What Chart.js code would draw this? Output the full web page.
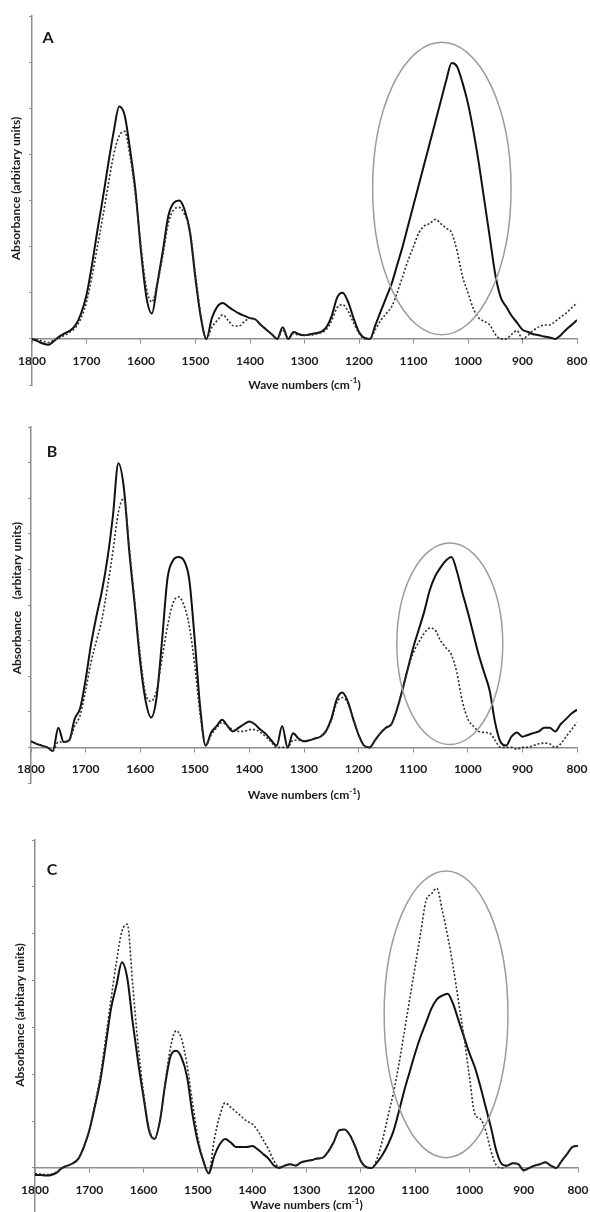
<!DOCTYPE html>
<html>
<head>
<meta charset="utf-8">
<title>FTIR spectra A, B, C</title>
<script src="https://cdn.jsdelivr.net/npm/chart.js@4.4.1/dist/chart.umd.min.js"></script>
<style>
  html, body { margin: 0; padding: 0; background: #fff; }
  .panel { position: absolute; left: 0; width: 590px; }
  #panelA { top: 0; height: 395px; }
  #panelB { top: 395px; height: 405px; }
  #panelC { top: 790px; height: 422px; }
</style>
</head>
<body>
<div class="panel" id="panelA"><canvas id="chartA" width="590" height="395"></canvas></div>
<div class="panel" id="panelB"><canvas id="chartB" width="590" height="405"></canvas></div>
<div class="panel" id="panelC"><canvas id="chartC" width="590" height="422"></canvas></div>
<script>
// wave numbers (cm-1), read every 10 from 1800 down to 800
const waveNumbers = [
  1800, 1790, 1780, 1770, 1760, 1750, 1740, 1730, 1720, 1710,
  1700, 1690, 1680, 1670, 1660, 1650, 1640, 1630, 1620, 1610,
  1600, 1590, 1580, 1570, 1560, 1550, 1540, 1530, 1520, 1510,
  1500, 1490, 1480, 1470, 1460, 1450, 1440, 1430, 1420, 1410,
  1400, 1390, 1380, 1370, 1360, 1350, 1340, 1330, 1320, 1310,
  1300, 1290, 1280, 1270, 1260, 1250, 1240, 1230, 1220, 1210,
  1200, 1190, 1180, 1170, 1160, 1150, 1140, 1130, 1120, 1110,
  1100, 1090, 1080, 1070, 1060, 1050, 1040, 1030, 1020, 1010,
  1000, 990, 980, 970, 960, 950, 940, 930, 920, 910,
  900, 890, 880, 870, 860, 850, 840, 830, 820, 810,
  800
];
const xTicks = [1800, 1700, 1600, 1500, 1400, 1300, 1200, 1100, 1000, 900, 800];

// panel A
const solidA = [
  0.0, -0.05, -0.1, -0.13, -0.05, 0.05, 0.12, 0.18, 0.3, 0.55,
  0.95, 1.6, 2.35, 3.05, 3.8, 4.5, 5.04, 4.85, 4.1, 3.2,
  1.9, 0.9, 0.55, 1.2, 1.9, 2.66, 2.95, 3.0, 2.8, 2.3,
  1.3, 0.45, 0.0, 0.45, 0.7, 0.78, 0.7, 0.62, 0.55, 0.5,
  0.45, 0.42, 0.3, 0.2, 0.1, 0.0, 0.25, 0.0, 0.15, 0.1,
  0.08, 0.1, 0.12, 0.15, 0.25, 0.5, 0.9, 1.0, 0.8, 0.45,
  0.15, 0.02, 0.0, 0.3, 0.6, 0.9, 1.2, 1.6, 2.0, 2.45,
  2.9, 3.35, 3.8, 4.25, 4.7, 5.15, 5.6, 5.98, 5.9, 5.55,
  5.1, 4.5, 3.8, 3.0, 2.2, 1.4, 0.9, 0.7, 0.5, 0.35,
  0.2, 0.15, 0.1, 0.08, 0.05, 0.03, 0.0, 0.08, 0.2, 0.3,
  0.41
];
const dottedA = [
  0.0, -0.02, -0.05, -0.08, -0.03, 0.02, 0.08, 0.15, 0.25, 0.45,
  0.8, 1.35, 2.0, 2.65, 3.35, 4.0, 4.4, 4.5, 3.95, 3.1,
  2.0, 1.1, 0.8, 1.2, 1.8, 2.5, 2.8, 2.85, 2.7, 2.35,
  1.4, 0.5, 0.0, 0.25, 0.4, 0.52, 0.4, 0.28, 0.28, 0.38,
  0.45, 0.42, 0.3, 0.2, 0.1, 0.0, 0.2, 0.0, 0.12, 0.08,
  0.08, 0.08, 0.1, 0.13, 0.2, 0.4, 0.68, 0.74, 0.6, 0.35,
  0.12, 0.0, 0.0, 0.2, 0.4, 0.55, 0.7, 1.0, 1.35, 1.7,
  2.0, 2.3, 2.45, 2.5, 2.59, 2.5, 2.4, 2.3, 1.9, 1.35,
  1.0, 0.65, 0.45, 0.38, 0.3, 0.1, 0.0, 0.0, 0.1, 0.18,
  0.0, 0.08, 0.18, 0.26, 0.3, 0.3, 0.38, 0.47, 0.56, 0.67,
  0.78
];

// panel B
const solidB = [
  0.17, 0.1, 0.05, 0.0, -0.1, 0.55, 0.15, 0.2, 0.8, 1.1,
  1.9, 2.9, 3.7, 4.4, 5.3, 6.5, 7.98, 7.3, 5.5, 4.0,
  2.4, 1.3, 0.84, 1.4, 3.0, 4.75, 5.25, 5.35, 5.25, 4.7,
  3.0, 1.1, 0.05, 0.42, 0.6, 0.78, 0.6, 0.45, 0.55, 0.65,
  0.73, 0.65, 0.5, 0.38, 0.2, 0.05, 0.6, 0.0, 0.4, 0.25,
  0.17, 0.2, 0.25, 0.3, 0.45, 0.8, 1.35, 1.54, 1.3, 0.8,
  0.35, 0.05, 0.0, 0.2, 0.4, 0.55, 0.65, 1.05, 1.6, 2.2,
  2.8, 3.3, 3.8, 4.4, 4.8, 5.05, 5.25, 5.35, 4.95, 4.35,
  3.8, 3.2, 2.6, 2.1, 1.6, 0.7, 0.15, 0.05, 0.3, 0.42,
  0.3, 0.35, 0.4, 0.45, 0.55, 0.55, 0.45, 0.65, 0.8, 0.95,
  1.06
];
const dottedB = [
  0.17, 0.1, 0.05, 0.0, -0.1, 0.15, 0.15, 0.2, 0.6, 0.9,
  1.6, 2.4, 3.0, 3.6, 4.5, 5.5, 6.6, 7.0, 5.6, 4.1,
  2.6, 1.5, 1.3, 1.6, 2.5, 3.4, 4.05, 4.23, 4.0, 3.4,
  2.3, 0.9, 0.05, 0.35, 0.55, 0.7, 0.6, 0.5, 0.45, 0.45,
  0.5, 0.5, 0.42, 0.3, 0.15, 0.0, 0.0, 0.0, 0.2, 0.2,
  0.17, 0.2, 0.25, 0.3, 0.45, 0.75, 1.25, 1.4, 1.25, 0.85,
  0.35, 0.05, 0.0, 0.2, 0.4, 0.55, 0.65, 1.05, 1.6, 2.2,
  2.65, 2.95, 3.2, 3.35, 3.3, 3.0, 2.8, 2.6, 2.1, 1.3,
  0.8, 0.6, 0.45, 0.42, 0.4, 0.2, 0.0, 0.0, 0.0, -0.05,
  0.0, 0.0, 0.05, 0.1, 0.12, 0.1, 0.0, 0.1, 0.3, 0.5,
  0.7
];

// panel C
const solidC = [
  -0.15, -0.15, -0.16, -0.15, -0.1, 0.0, 0.05, 0.1, 0.2, 0.45,
  0.8, 1.3, 1.85, 2.6, 3.4, 3.9, 4.39, 4.05, 3.1, 2.25,
  1.5, 0.8, 0.62, 1.0, 1.8, 2.4, 2.5, 2.35, 1.95, 1.15,
  0.55, 0.15, -0.12, 0.25, 0.5, 0.62, 0.55, 0.45, 0.45, 0.45,
  0.47, 0.4, 0.3, 0.2, 0.05, 0.0, 0.05, 0.08, 0.05, 0.12,
  0.15, 0.17, 0.2, 0.22, 0.35, 0.55, 0.8, 0.82, 0.7, 0.45,
  0.15, 0.02, 0.0, 0.12, 0.28, 0.5, 0.78, 1.2, 1.65, 2.05,
  2.45, 2.8, 3.1, 3.4, 3.6, 3.68, 3.72, 3.5, 3.15, 2.8,
  2.45, 2.15, 1.75, 1.3, 0.85, 0.35, 0.08, 0.05, 0.1, 0.08,
  -0.05, 0.0, 0.05, 0.08, 0.12, 0.05, 0.0, 0.15, 0.3, 0.45,
  0.47
];
const dottedC = [
  -0.12, -0.13, -0.14, -0.13, -0.08, 0.0, 0.05, 0.1, 0.2, 0.45,
  0.82, 1.35, 1.95, 2.75, 3.6, 4.4, 5.05, 5.2, 3.9, 2.6,
  1.6, 0.85, 0.62, 1.0, 1.85, 2.6, 2.93, 2.75, 2.2, 1.4,
  0.65, 0.15, -0.1, 0.6, 1.1, 1.39, 1.3, 1.2, 1.1, 1.0,
  0.94, 0.8, 0.6, 0.4, 0.15, 0.02, 0.05, 0.08, 0.05, 0.12,
  0.15, 0.17, 0.2, 0.22, 0.35, 0.55, 0.8, 0.82, 0.7, 0.45,
  0.15, 0.02, 0.0, 0.2, 0.6, 1.1, 1.6, 2.2, 2.9, 3.6,
  4.3, 5.0, 5.7, 5.85, 5.97, 5.5, 4.95, 4.3, 3.55, 2.8,
  1.95, 1.15, 1.05, 0.8, 0.35, 0.05, 0.0, 0.05, 0.1, 0.08,
  -0.05, 0.0, 0.05, 0.08, 0.12, 0.05, 0.0, 0.15, 0.3, 0.45,
  0.47
];

const axisGray = '#8e8e8e';
const inkColor = '#1a1a1a';
const fontFamily = 'Lato, "Open Sans", sans-serif';

function toPoints(values) {
    return waveNumbers.map(function(wn, i) { return { x: wn, y: values[i] }; });
}

// ellipse, panel letter and axis titles
const panelDecor = {
    id: 'panelDecor',
    afterDatasetsDraw(chart, args, opts) {
        const ctx = chart.ctx;
        const area = chart.chartArea;
        const xs = chart.scales.x;
        const ys = chart.scales.y;
        const zero = ys.getPixelForValue(0);
        ctx.save();

        const e = opts.ellipse;
        const cx = xs.getPixelForValue(e.x);
        const cy = ys.getPixelForValue(e.y);
        const rx = Math.abs(xs.getPixelForValue(e.x + e.rx) - cx);
        const ry = Math.abs(ys.getPixelForValue(e.y + e.ry) - cy);
        ctx.strokeStyle = '#9c9c9c';
        ctx.lineWidth = 1.5;
        ctx.beginPath();
        ctx.ellipse(cx, cy, rx, ry, 0, 0, Math.PI * 2);
        ctx.stroke();

        ctx.fillStyle = inkColor;
        ctx.textAlign = 'center';
        ctx.textBaseline = 'middle';
        ctx.font = 'bold 16px ' + fontFamily;
        ctx.fillText(opts.letter, area.left + opts.letterDx, area.top + opts.letterDy);

        ctx.font = 'bold 12px ' + fontFamily;
        ctx.save();
        ctx.translate(opts.yTitleX, (area.top + zero) / 2 + 11);
        ctx.rotate(-Math.PI / 2);
        ctx.fillText(opts.yTitle, 0, 0);
        ctx.restore();

        // "Wave numbers (cm-1)" with a raised -1
        const main = 'Wave numbers (cm';
        const sup = '-1';
        const close = ')';
        const supFont = 'bold 8px ' + fontFamily;
        const w1 = ctx.measureText(main).width;
        const w3 = ctx.measureText(close).width;
        ctx.font = supFont;
        const w2 = ctx.measureText(sup).width;
        const total = w1 + w2 + w3;
        let x = (area.left + area.right) / 2 - total / 2;
        const y = zero + opts.xTitleDy;
        ctx.textAlign = 'left';
        ctx.font = 'bold 12px ' + fontFamily;
        ctx.fillText(main, x, y);
        x += w1;
        ctx.font = supFont;
        ctx.fillText(sup, x, y - 4);
        x += w2;
        ctx.font = 'bold 12px ' + fontFamily;
        ctx.fillText(close, x, y);
        ctx.restore();
    }
};

function makePanel(canvasId, solid, dotted, p) {
    return new Chart(document.getElementById(canvasId), {
        type: 'line',
        data: {
            datasets: [{
                data: toPoints(dotted),
                borderColor: '#2e2e2e',
                borderWidth: 1.6,
                borderDash: [2, 2],
                pointRadius: 0,
                cubicInterpolationMode: 'monotone',
                fill: false
            }, {
                data: toPoints(solid),
                borderColor: '#111111',
                borderWidth: 2,
                pointRadius: 0,
                cubicInterpolationMode: 'monotone',
                fill: false
            }]
        },
        options: {
            responsive: false,
            animation: false,
            events: [],
            layout: {
                padding: { left: 0, right: p.right, top: p.top, bottom: p.bottom }
            },
            plugins: {
                legend: { display: false },
                tooltip: { enabled: false },
                panelDecor: p.decor
            },
            scales: {
                x: {
                    type: 'linear',
                    reverse: true,
                    min: 800,
                    max: 1800,
                    position: { y: 0 },
                    border: { color: axisGray, width: 1.5 },
                    grid: { drawOnChartArea: false, tickLength: 4, color: axisGray },
                    afterBuildTicks: function(scale) {
                        scale.ticks = xTicks.map(function(v) { return { value: v }; });
                    },
                    // labels may overhang the plot edges; keep them from shrinking it
                    afterFit: function(scale) {
                        scale.paddingLeft = 0;
                        scale.paddingRight = 0;
                    },
                    ticks: {
                        padding: 11,
                        color: inkColor,
                        autoSkip: false,
                        maxRotation: 0,
                        font: { family: fontFamily, size: 12, weight: 'bold' },
                        callback: function(value) { return String(value); }
                    }
                },
                y: {
                    min: p.yMin,
                    max: p.yMax,
                    border: { color: axisGray, width: 1.5 },
                    grid: { drawOnChartArea: false, tickLength: 3, color: axisGray },
                    ticks: { display: false, stepSize: 1 },
                    afterBuildTicks: function(scale) {
                        scale.ticks = scale.ticks.filter(function(t) { return Number.isInteger(t.value); });
                    },
                    afterFit: function(scale) { scale.width = p.left; }
                }
            }
        },
        plugins: [panelDecor]
    });
}

makePanel('chartA', solidA, dottedA, {
    left: 32, right: 13, top: 16, bottom: 10, yMin: -1, yMax: 7,
    decor: {
        letter: 'A', letterDx: 16, letterDy: 22,
        yTitle: 'Absorbance (arbitary units)', yTitleX: 16,
        xTitleDy: 46,
        ellipse: { x: 1048, y: 3.26, rx: 127, ry: 3.17 }
    }
});

makePanel('chartB', solidB, dottedB, {
    left: 31, right: 13, top: 32, bottom: 17, yMin: -1, yMax: 9,
    decor: {
        letter: 'B', letterDx: 21, letterDy: 25,
        yTitle: 'Absorbance    (arbitary units)', yTitleX: 17,
        xTitleDy: 48,
        ellipse: { x: 1033, y: 2.91, rx: 97, ry: 2.83 }
    }
});

makePanel('chartC', solidC, dottedC, {
    left: 35, right: 12, top: 50, bottom: 0, yMin: -0.94, yMax: 7,
    decor: {
        letter: 'C', letterDx: 17, letterDy: 30,
        yTitle: 'Absorbance (arbitary units)', yTitleX: 20,
        xTitleDy: 37,
        ellipse: { x: 1043, y: 3.28, rx: 114, ry: 3.06 }
    }
});
</script>
</body>
</html>
